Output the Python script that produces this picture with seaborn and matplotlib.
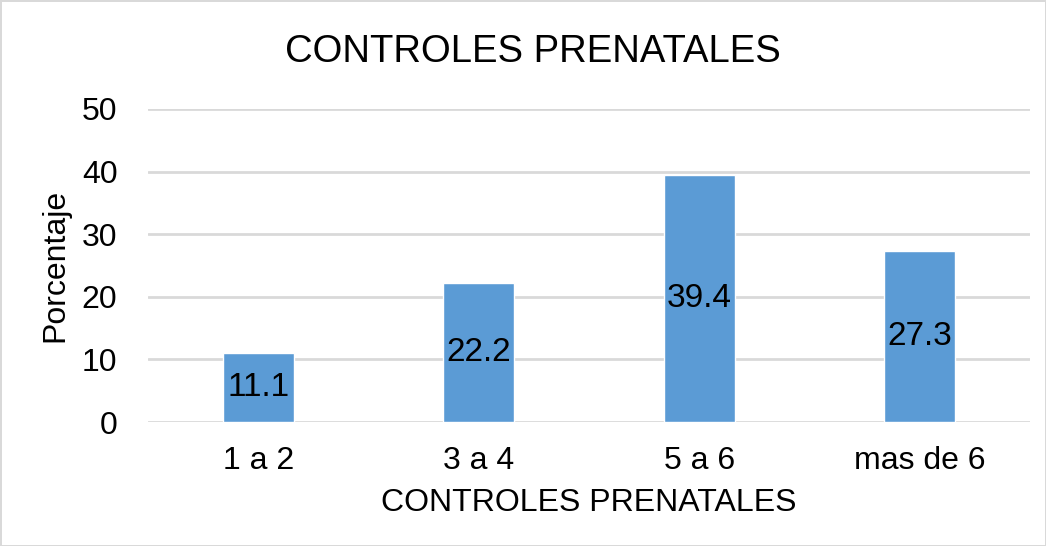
import matplotlib
matplotlib.use("Agg")
import matplotlib.pyplot as plt
import seaborn as sns
import pandas as pd

categories = ["1 a 2", "3 a 4", "5 a 6", "mas de 6"]
porcentaje = [11.1, 22.2, 39.4, 27.3]
y_ticks    = [0, 10, 20, 30, 40, 50]

BAR_COLOR  = "#5B9BD5"
GRID_COLOR = "#D9D9D9"

sns.set_theme(style="white")
plt.rcParams['font.family'] = ['Liberation Sans', 'DejaVu Sans']
plt.rcParams['text.color'] = 'black'
plt.rcParams['axes.labelcolor'] = 'black'
plt.rcParams['xtick.color'] = 'black'
plt.rcParams['ytick.color'] = 'black'

df = pd.DataFrame({"categoria": categories, "porcentaje": porcentaje})

fig = plt.figure(figsize=(10.46, 5.46), dpi=100)
fig.patch.set_edgecolor(GRID_COLOR)
fig.patch.set_linewidth(2)
ax = fig.add_axes([0.1415, 0.2271, 0.8432, 0.5733])

sns.barplot(data=df, x="categoria", y="porcentaje", color=BAR_COLOR,
            width=0.32, saturation=1, ax=ax, zorder=3)

# labels centred inside each bar
for bar, val in zip(ax.patches, porcentaje):
    ax.text(bar.get_x() + bar.get_width() / 2, val / 2, f"{val}",
            ha="center", va="center", fontsize=24, color="black", zorder=4)

ax.set_ylim(0, 50)
ax.set_xlim(-0.5, 3.5)
ax.set_yticks(y_ticks)
ax.yaxis.grid(True, color=GRID_COLOR, linewidth=2, zorder=0)
ax.set_axisbelow(True)
for s in ax.spines.values():
    s.set_visible(False)

ax.tick_params(axis="y", length=0, pad=22, labelsize=23)
ax.tick_params(axis="x", length=0, pad=17, labelsize=23)
ax.set_xlabel("CONTROLES PRENATALES", fontsize=23, labelpad=9)
ax.set_ylabel("Porcentaje", fontsize=23, labelpad=8)

fig.text(0.509, 0.905, "CONTROLES PRENATALES", ha="center", va="center",
         fontsize=27.5)

fig.savefig("out.png", dpi=100)
